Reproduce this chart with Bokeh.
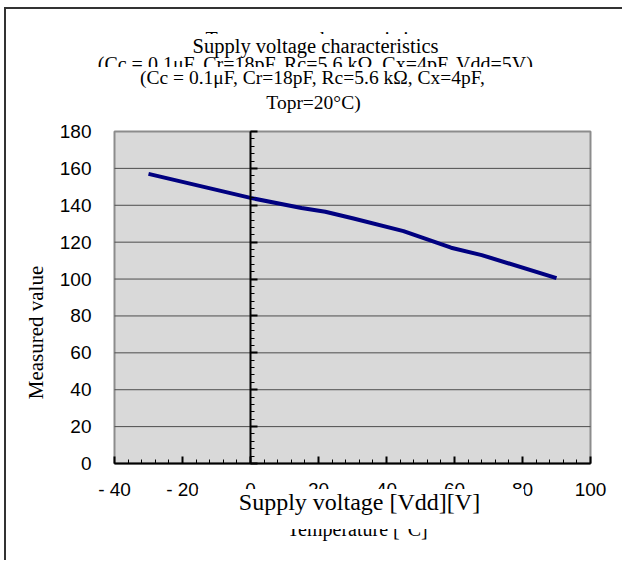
import numpy as np
from bokeh.plotting import figure
from bokeh.models import (Range1d, SingleIntervalTicker, Label, LinearAxis,
                          InlineStyleSheet)
from bokeh.embed import file_html
from bokeh.resources import INLINE

# ---- data ----
temperature = [-30, -15, 0, 15, 22, 30, 45, 59, 68, 90]
measured = [157, 150.5, 144, 138.5, 136.5, 133, 126, 117, 113, 100.5]

x_ticks = [-40, -20, 0, 20, 40, 60, 80, 100]
x_tick_labels = ["- 40", "- 20", "0", "20", "40", "60", "80", "100"]
y_ticks = [0, 20, 40, 60, 80, 100, 120, 140, 160, 180]

ghost_title = "Temperature characteristics"
ghost_sub = "(Cc = 0.1\u03bcF, Cr=18pF, Rc=5.6 k\u03a9, Cx=4pF, Vdd=5V)"
title = "Supply voltage characteristics"
sub1 = "(Cc = 0.1\u03bcF, Cr=18pF, Rc=5.6 k\u03a9, Cx=4pF,"
sub2 = "Topr=20\u00b0C)"
ghost_xlabel = "Temperature [\u00b0C]"
xlabel = "Supply voltage [Vdd][V]"
ylabel = "Measured value"

# ---- geometry (page pixels) ----
W, H = 618, 553
CX0, CY0 = 6, 9                 # canvas top-left on the page
PL, PR, PT, PB = 114, 590, 131, 463   # plot area on the page
xmin, xmax = x_ticks[0], x_ticks[-1]
ymin, ymax = y_ticks[0], y_ticks[-1]
sx = (PR - PL) / (xmax - xmin)
sy = (PB - PT) / (ymax - ymin)
xs = xmin - (PL - CX0) / sx
xe = xmax + (CX0 + W - PR) / sx
ye = ymax + (PT - CY0) / sy
ys = ymin - (CY0 + H - PB) / sy

def dx(px):
    return xs + (px - CX0) / sx

def dy(py):
    return ye - (py - CY0) / sy

p = figure(width=W, height=H, output_backend="svg", toolbar_location=None,
           x_range=Range1d(xs, xe), y_range=Range1d(ys, ye),
           min_border=0, outline_line_color=None)
p.stylesheets = [InlineStyleSheet(css=":host { margin-left: 4px; margin-top: 7px; "
                                      "border-left: 2px solid #333333; border-top: 2px solid #333333; }")]
p.background_fill_color = "white"
p.border_fill_color = "white"
p.grid.visible = False

# plot area
p.quad(left=[xmin], right=[xmax], bottom=[ymin], top=[ymax],
       fill_color="#d9d9d9", line_color="#8c8c8c", line_width=2)
# horizontal gridlines
gy = y_ticks[1:-1]
p.segment(x0=[xmin] * len(gy), x1=[xmax] * len(gy), y0=gy, y1=gy,
          line_color="#4d4d4d", line_width=1)

# x axis at y = 0
xa = p.xaxis[0]
xa.fixed_location = 0
xa.bounds = (xmin, xmax)
xa.ticker = SingleIntervalTicker(interval=20, num_minor_ticks=5)
xa.major_label_overrides = {t: l for t, l in zip(x_ticks, x_tick_labels)}
xa.axis_line_color = "black"
xa.axis_line_width = 2
xa.major_tick_in = 7
xa.major_tick_out = 0
xa.minor_tick_in = 4
xa.minor_tick_out = 0
xa.major_tick_line_color = "black"
xa.minor_tick_line_color = "black"
xa.major_tick_line_width = 2
xa.major_label_text_font = "Liberation Sans"
xa.major_label_text_font_size = "19px"
xa.major_label_text_color = "black"
xa.major_label_standoff = 15

# y labels on the left edge of the plot area
ya = p.yaxis[0]
ya.fixed_location = xmin
ya.bounds = (ymin, ymax)
ya.ticker = SingleIntervalTicker(interval=20, num_minor_ticks=5)
ya.axis_line_color = None
ya.major_tick_line_color = None
ya.minor_tick_line_color = None
ya.major_label_text_font = "Liberation Sans"
ya.major_label_text_font_size = "19px"
ya.major_label_text_color = "black"
ya.major_label_standoff = 17

# vertical axis line at x = 0 with ticks to the right
ya0 = LinearAxis(fixed_location=0, bounds=(ymin, ymax),
                 ticker=SingleIntervalTicker(interval=20, num_minor_ticks=5))
ya0.axis_line_color = "black"
ya0.axis_line_width = 2
ya0.major_tick_out = 7
ya0.major_tick_in = 0
ya0.minor_tick_out = 4
ya0.minor_tick_in = 0
ya0.major_tick_line_width = 2
ya0.major_tick_line_color = "black"
ya0.minor_tick_line_color = "black"
ya0.major_label_overrides = {t: "" for t in y_ticks}
p.add_layout(ya0, "right")

# data line
p.line(temperature, measured, line_color="#000080", line_width=4)

serif = "Liberation Serif"

def lab(text, x, y, size, bg=None, pad=None, angle=0):
    kw = dict(x=dx(x), y=dy(y), text=text, text_font=serif, text_font_size=size,
              text_align="center", text_baseline="middle", text_color="black", angle=angle)
    if bg:
        kw.update(background_fill_color=bg, padding=pad)
    p.add_layout(Label(**kw))

lab(ghost_title, 315, 38, "20px")
lab(ghost_sub, 315, 63.5, "20px")
lab(title, 315, 45, "20.5px", bg="white", pad=dict(left=6, right=6, top=1, bottom=0))
lab(sub1, 312, 77, "19.5px", bg="white", pad=dict(left=50, right=50, top=0, bottom=0))
lab(sub2, 313, 102, "19.5px")
lab(ghost_xlabel, 357, 528, "20px")
lab(xlabel, 360.5, 508.5, "24px", bg="white", pad=dict(left=41, right=44, top=0, bottom=14))
lab(ylabel, 35, 332, "21px", angle=np.pi / 2)

open("out.html", "w").write(file_html(p, INLINE))
